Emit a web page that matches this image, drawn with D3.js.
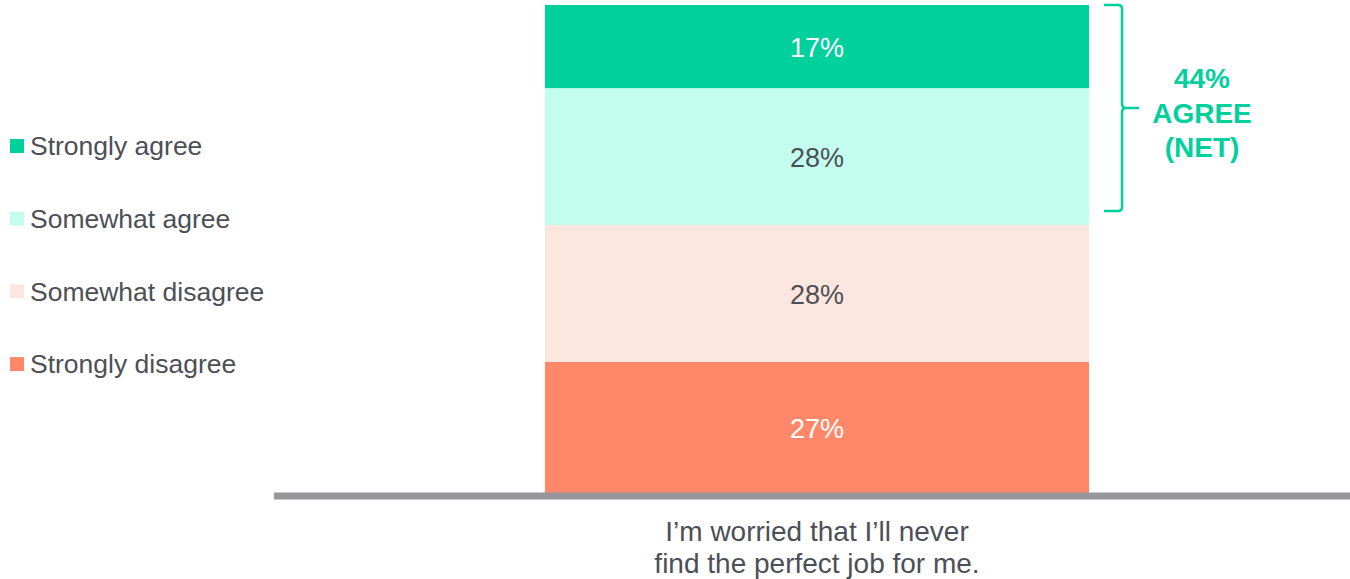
<!DOCTYPE html>
<html>
<head>
<meta charset="utf-8">
<script src="https://cdn.jsdelivr.net/npm/d3@7"></script>
<style>
  body { margin: 0; background: #fff; }
  svg { display: block; font-family: "Liberation Sans", Arial, sans-serif; }
</style>
</head>
<body>
<div id="chart"></div>
<script>
// data
var categories = ["I\u2019m worried that I\u2019ll never find the perfect job for me."];
var captionLines = ["I\u2019m worried that I\u2019ll never", "find the perfect job for me."];
var seriesNames = ["Strongly disagree", "Somewhat disagree", "Somewhat agree", "Strongly agree"];
var seriesValues = [27, 28, 28, 17];
var seriesColors = ["#ff886a", "#fde6df", "#c3fdee", "#00d09c"];
var labelColors = ["#ffffff", "#4d4f56", "#4d4f56", "#ffffff"];
var netLabel = ["44%", "AGREE", "(NET)"];

var width = 1350, height = 579;

var svg = d3.select("#chart").append("svg")
    .attr("width", width)
    .attr("height", height);

var x = d3.scaleBand()
    .domain(categories)
    .range([274, 1360])
    .paddingInner(0)
    .paddingOuter(0.498);

var y = d3.scaleLinear()
    .domain([0, 100])
    .range([494, 5]);

// stack it
var row = {};
seriesNames.forEach(function(k, i) { row[k] = seriesValues[i]; });
var layers = d3.stack().keys(seriesNames)([row]);

var bx = x(categories[0]),
    bw = x.bandwidth();

var seg = svg.selectAll(".seg")
    .data(layers)
    .enter().append("g")
    .attr("class", "seg");

seg.append("rect")
    .attr("x", bx)
    .attr("width", bw)
    .attr("y", function(d) { return y(d[0][1]); })
    .attr("height", function(d) { return y(d[0][0]) - y(d[0][1]); })
    .attr("fill", function(d, i) { return seriesColors[i]; });

seg.append("text")
    .attr("x", bx + bw / 2)
    .attr("y", function(d) { return (y(d[0][0]) + y(d[0][1])) / 2 + 1; })
    .attr("dy", "0.35em")
    .attr("text-anchor", "middle")
    .attr("font-size", "27px")
    .attr("fill", function(d, i) { return labelColors[i]; })
    .text(function(d, i) { return seriesValues[i] + "%"; });

// baseline
svg.append("line")
    .attr("x1", 274).attr("x2", width)
    .attr("y1", y(0) + 2).attr("y2", y(0) + 2)
    .attr("stroke", "#97979b")
    .attr("stroke-width", 7);

// category caption
svg.append("text")
    .attr("x", bx + bw / 2)
    .attr("text-anchor", "middle")
    .attr("font-size", "28px")
    .attr("fill", "#4d4f56")
    .selectAll("tspan")
    .data(captionLines)
    .enter().append("tspan")
    .attr("x", bx + bw / 2)
    .attr("y", function(d, i) { return 541 + i * 32; })
    .text(function(d) { return d; });

// legend (top = strongly agree)
var legend = svg.append("g")
    .selectAll("g")
    .data(seriesNames.slice().reverse())
    .enter().append("g")
    .attr("transform", function(d, i) { return "translate(10," + (146 + i * 72.7) + ")"; });

legend.append("rect")
    .attr("x", 0)
    .attr("y", -7)
    .attr("width", 14)
    .attr("height", 14)
    .attr("fill", function(d) { return seriesColors[seriesNames.indexOf(d)]; });

legend.append("text")
    .attr("x", 20)
    .attr("dy", "0.35em")
    .attr("font-size", "26.5px")
    .attr("fill", "#4d4f56")
    .text(function(d) { return d; });

// bracket for agree net
var bTop = y(100), bBot = y(55) - 14, bMid = (bTop + bBot) / 2;
var bx0 = bx + bw + 15, bx1 = bx0 + 18, bTip = bx1 + 17, r = 4;
var p = d3.path();
p.moveTo(bx0, bTop);
p.lineTo(bx1 - r, bTop);
p.quadraticCurveTo(bx1, bTop, bx1, bTop + r);
p.lineTo(bx1, bMid - r);
p.quadraticCurveTo(bx1, bMid, bx1 + r, bMid);
p.lineTo(bTip, bMid);
p.moveTo(bx1 + r, bMid);
p.quadraticCurveTo(bx1, bMid, bx1, bMid + r);
p.lineTo(bx1, bBot - r);
p.quadraticCurveTo(bx1, bBot, bx1 - r, bBot);
p.lineTo(bx0, bBot);

svg.append("path")
    .attr("d", p.toString())
    .attr("fill", "none")
    .attr("stroke", "#00d09c")
    .attr("stroke-width", 2.5);

svg.append("text")
    .attr("text-anchor", "middle")
    .attr("font-size", "28px")
    .attr("font-weight", "bold")
    .attr("fill", "#00d09c")
    .selectAll("tspan")
    .data(netLabel)
    .enter().append("tspan")
    .attr("x", 1202)
    .attr("y", function(d, i) { return bMid - 20 + i * 34.5; })
    .text(function(d) { return d; });
</script>
</body>
</html>
